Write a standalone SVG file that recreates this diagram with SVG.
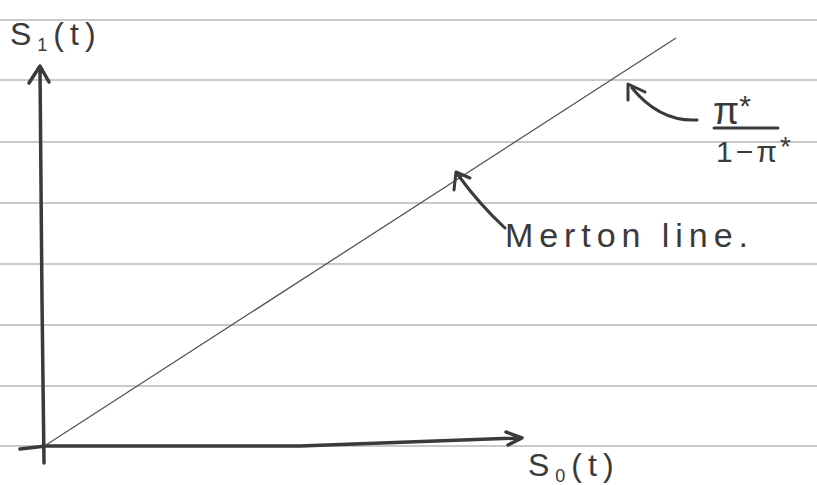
<svg xmlns="http://www.w3.org/2000/svg" width="817" height="485" viewBox="0 0 817 485">
<style>
.rule{stroke:#c9c9c9;stroke-width:2}
.ax{stroke:#3a3a3a;stroke-width:3.5;fill:none;stroke-linecap:round;stroke-linejoin:round}
.pen{stroke:#3a3a3a;stroke-width:3;fill:none;stroke-linecap:round;stroke-linejoin:round}
.thin{stroke:#555;stroke-width:1.3;fill:none}
.t{font-family:"Liberation Sans",Arial,sans-serif;fill:#3a3a3a}
</style>
<rect width="817" height="485" fill="#fff"/>
<g id="paper">
<line class="rule" x1="0" y1="20" x2="817" y2="20"/>
<line class="rule" x1="0" y1="80" x2="817" y2="80"/>
<line class="rule" x1="0" y1="142" x2="817" y2="142"/>
<line class="rule" x1="0" y1="203" x2="817" y2="203"/>
<line class="rule" x1="0" y1="264" x2="817" y2="264"/>
<line class="rule" x1="0" y1="325" x2="817" y2="325"/>
<line class="rule" x1="0" y1="386" x2="817" y2="386"/>
<line class="rule" x1="0" y1="446" x2="817" y2="446"/>
</g>
<g id="connectors">
<path id="y-axis" class="ax" d="M44,463 L42,300 L40,68 M29,83 L40,66 L49,82"/>
<path id="x-axis" class="ax" d="M20,449 L46,446 L300,446 L520,438 M506,432 L522,438 L508,445"/>
<path id="merton-line" class="thin" d="M46,445 L676,38"/>
<path id="merton-arrow" class="pen" d="M505,228 Q480,205 458,175 M454,190 L456,172 L470,178"/>
<path id="pi-arrow" class="pen" d="M697,120 Q660,122 632,88 M628,100 L628,84 L645,92"/>
</g>
<g id="labels">
<text class="t" x="10" y="45" font-size="32" letter-spacing="6">S<tspan font-size="18" dy="6">1</tspan><tspan dy="-6">(t)</tspan></text>
<text class="t" x="528" y="476" font-size="32" letter-spacing="6">S<tspan font-size="18" dy="6">0</tspan><tspan dy="-6">(t)</tspan></text>
<text class="t" x="505" y="247" font-size="34" textLength="243" lengthAdjust="spacing">Merton line.</text>
<g id="fraction">
<text class="t" x="713" y="124" font-size="38">π<tspan font-size="30" dy="-8">*</tspan></text>
<line class="pen" x1="714" y1="128" x2="778" y2="128"/>
<text class="t" x="716" y="162" font-size="30" letter-spacing="3">1−π<tspan font-size="28" dy="-6">*</tspan></text>
</g>
</g>
</svg>
